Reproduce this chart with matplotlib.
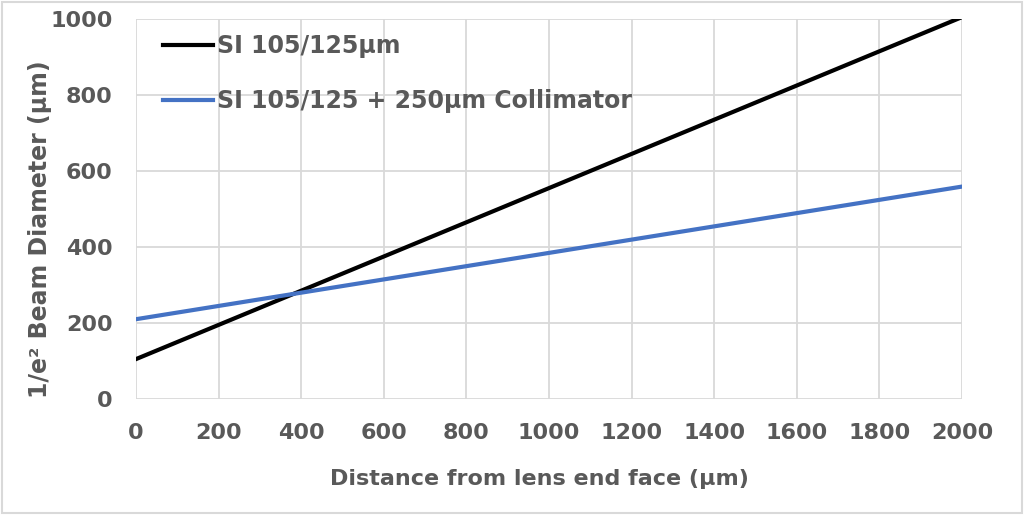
import matplotlib.pyplot as plt
from matplotlib.patches import Rectangle

# data (straight lines, end points)
distance = [0, 2000]
si_fiber = [105, 1005]
si_collimator = [210, 559]
labels = ['SI 105/125μm', 'SI 105/125 + 250μm Collimator']

grey = '#595959'
plt.rcParams['font.family'] = ['DejaVu Sans']
plt.rcParams['font.weight'] = 'bold'

fig = plt.figure(figsize=(10.24, 5.15), dpi=100)
ax = fig.add_axes([136 / 1024, 1 - 399 / 515, 826 / 1024, 380 / 515])

ax.plot(distance, si_fiber, color='black', lw=3, label=labels[0])
ax.plot(distance, si_collimator, color='#4472c4', lw=3, label=labels[1])

ax.set_xlim(0, 2000)
ax.set_ylim(0, 1000)
ax.set_xticks(range(0, 2001, 200))
ax.set_yticks(range(0, 1001, 200))
ax.grid(True, color='#d9d9d9', lw=1.3)
ax.set_axisbelow(True)
for s in ['top', 'right', 'left', 'bottom']:
    ax.spines[s].set_visible(False)
ax.tick_params(length=0, labelsize=16, labelcolor=grey)
ax.tick_params(axis='x', pad=17)
ax.tick_params(axis='y', pad=17)

ax.set_xlabel('Distance from lens end face (μm)', fontsize=16, color=grey, fontweight='bold')
ax.xaxis.set_label_coords(0.488, -0.184)
ax.set_ylabel('1/e² Beam Diameter (μm)', fontsize=17, color=grey, fontweight='bold')
ax.yaxis.set_label_coords(-0.1017, 0.447)

leg = ax.legend(loc='upper left', frameon=False, fontsize=17, handlelength=2.1,
                handletextpad=0.2, labelspacing=1.32, borderpad=0, borderaxespad=0,
                bbox_to_anchor=(0.0327, 0.96))
for t in leg.get_texts():
    t.set_color(grey)

# thin frame round the whole picture
fig.patches.append(Rectangle((0.002, 0.003), 0.996, 0.994, transform=fig.transFigure,
                             fill=False, edgecolor='#d9d9d9', lw=1.5))

fig.savefig('out.png', dpi=100)
